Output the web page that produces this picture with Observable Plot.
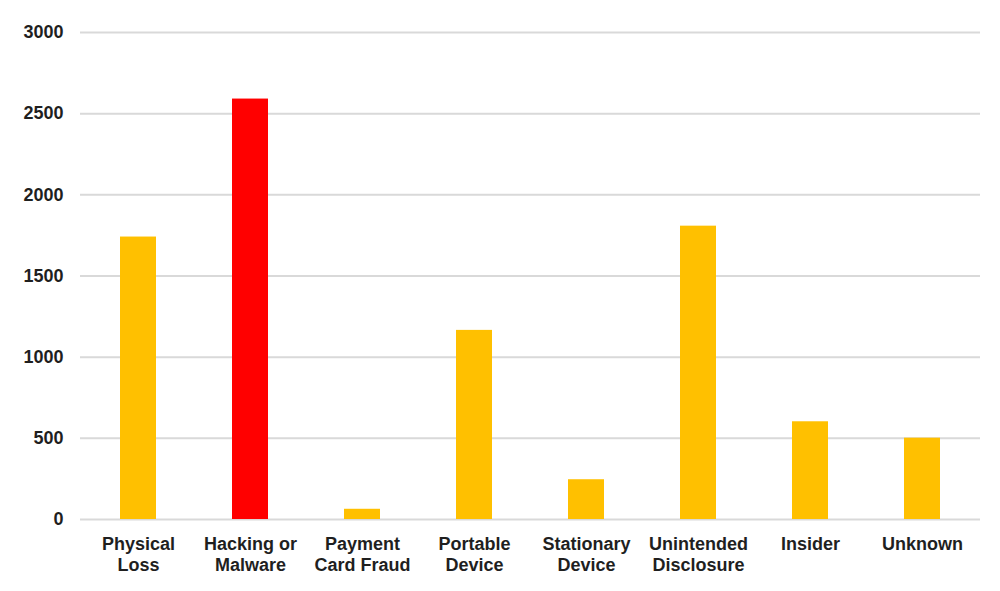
<!DOCTYPE html>
<html>
<head>
<meta charset="utf-8">
<script src="https://cdn.jsdelivr.net/npm/d3@7"></script>
<script src="https://cdn.jsdelivr.net/npm/@observablehq/plot@0.6"></script>
<style>
  html, body { margin: 0; padding: 0; background: #ffffff; }
  #chart { width: 1000px; height: 591px; }
</style>
</head>
<body>
<div id="chart"></div>
<script>
const categories = ["Physical Loss", "Hacking or Malware", "Payment Card Fraud", "Portable Device", "Stationary Device", "Unintended Disclosure", "Insider", "Unknown"];
const tickLabels = ["Physical\nLoss", "Hacking or\nMalware", "Payment\nCard Fraud", "Portable\nDevice", "Stationary\nDevice", "Unintended\nDisclosure", "Insider", "Unknown"];
const values = [1740, 2590, 63, 1165, 245, 1807, 602, 501];
const highlight = "Hacking or Malware";
const yTicks = [0, 500, 1000, 1500, 2000, 2500, 3000];

const data = categories.map((c, i) => ({category: c, value: values[i]}));

const chart = Plot.plot({
  width: 1000,
  height: 591,
  marginLeft: 80,
  marginRight: 20,
  marginTop: 32,
  marginBottom: 72,
  style: {
    fontFamily: "'Liberation Sans', Arial, sans-serif",
    fontSize: "18px",
    fontWeight: "bold",
    color: "#1f1f1f",
    background: "#ffffff"
  },
  color: {type: "identity"},
  x: {domain: categories, paddingInner: 0.68, paddingOuter: 0.34, label: null},
  y: {domain: [0, 3000], label: null},
  marks: [
    Plot.gridY(yTicks, {stroke: "#d9d9d9", strokeOpacity: 1, strokeWidth: 2}),
    Plot.barY(data, {x: "category", y: "value", fill: d => d.category === highlight ? "#FF0000" : "#FFC000"}),
    Plot.axisY(yTicks, {tickSize: 0, tickPadding: 17, label: null, fontWeight: "bold", tickFormat: d3.format("d")}),
    Plot.axisX({tickSize: 0, tickPadding: 15, label: null, lineHeight: 1.2,
      tickFormat: c => tickLabels[categories.indexOf(c)], fontWeight: "bold"})
  ]
});
document.getElementById("chart").appendChild(chart);
</script>
</body>
</html>
